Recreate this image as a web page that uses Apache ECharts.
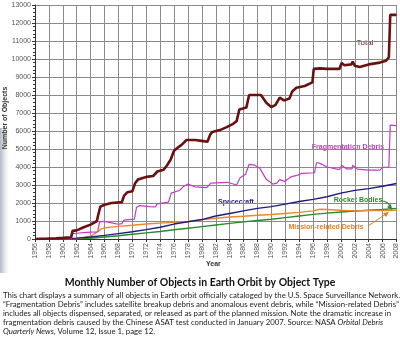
<!DOCTYPE html>
<html>
<head>
<meta charset="utf-8">
<script src="https://cdn.jsdelivr.net/npm/echarts@6/dist/echarts.min.js"></script>
<style>
  html, body { margin: 0; padding: 0; background: #ffffff; }
  #chart { width: 400px; height: 338px; }
</style>
</head>
<body>
<div id="chart"></div>
<script>
// Tracked objects in Earth orbit, [year, count] samples per object type
const totalObjects = [
  [1956.0, 0], [1957.8, 20], [1959.0, 40], [1960.0, 60], [1961.2, 100], [1961.4, 450],
  [1962.0, 480], [1963.0, 650], [1964.0, 800], [1964.9, 1000], [1965.1, 1350], [1965.4, 1800],
  [1966.0, 1900], [1967.0, 2000], [1968.5, 2050], [1968.8, 2400], [1969.3, 2600], [1970.0, 2650],
  [1970.4, 3100], [1970.8, 3300], [1972.0, 3450], [1973.0, 3500], [1973.6, 3750], [1974.5, 3850],
  [1975.0, 4100], [1975.5, 4400], [1976.0, 4900], [1976.6, 5100], [1977.0, 5200], [1977.8, 5500],
  [1979.0, 5500], [1980.0, 5450], [1980.8, 5400], [1981.2, 5800], [1981.5, 5950], [1982.6, 6050],
  [1983.5, 6200], [1984.5, 6400], [1985.0, 6550], [1985.4, 7200], [1986.4, 7300], [1986.8, 8000],
  [1988.5, 8000], [1989.3, 7550], [1990.0, 7330], [1990.6, 7450], [1991.2, 7850], [1991.8, 7700],
  [1992.6, 7800], [1993.0, 8200], [1993.6, 8400], [1994.8, 8500], [1995.9, 8700], [1996.1, 9450],
  [1997.0, 9480], [1998.0, 9450], [1999.8, 9450], [2000.1, 9780], [2000.5, 9650], [2001.5, 9700],
  [2001.7, 9850], [2002.0, 9620], [2002.7, 9550], [2004.0, 9700], [2005.6, 9800], [2006.5, 9900],
  [2006.9, 10100], [2007.1, 12450], [2008.0, 12450]
];

const fragmentationDebris = [
  [1956.0, 0], [1961.2, 30], [1961.4, 300], [1962.0, 320], [1963.0, 350], [1964.0, 380],
  [1965.0, 400], [1965.3, 950], [1966.0, 980], [1967.0, 900], [1968.0, 820], [1968.5, 850],
  [1968.8, 1050], [1970.3, 1100], [1970.6, 1750], [1971.0, 1850], [1972.5, 1800], [1973.3, 1780],
  [1973.6, 1950], [1975.2, 2050], [1975.6, 2550], [1976.4, 2650], [1976.8, 2700], [1977.3, 2900],
  [1978.0, 3050], [1979.0, 2900], [1980.7, 2850], [1981.3, 3100], [1983.7, 3150], [1985.0, 3000],
  [1985.5, 3400], [1986.3, 3600], [1986.8, 4150], [1987.6, 4100], [1988.3, 3950], [1989.3, 3300],
  [1990.2, 3050], [1990.8, 3100], [1991.2, 3300], [1991.9, 3200], [1992.8, 3450], [1993.8, 3550],
  [1994.4, 3650], [1996.2, 3680], [1996.5, 4250], [1997.0, 4200], [1998.0, 4000], [1999.8, 3850],
  [2000.1, 4100], [2000.8, 3900], [2001.6, 3900], [2001.7, 4100], [2002.4, 3880], [2004.0, 3830],
  [2005.6, 3830], [2006.0, 3980], [2006.9, 4000], [2007.1, 6330], [2008.0, 6300]
];

const spacecraft = [
  [1956, 0], [1958, 5], [1960, 15], [1962, 50], [1964, 110], [1966, 200], [1968, 300],
  [1970, 400], [1972, 520], [1974, 650], [1976, 830], [1978, 960], [1980, 1080], [1982, 1280],
  [1984, 1420], [1986, 1560], [1988, 1700], [1990, 1800], [1992, 1940], [1994, 2080],
  [1996, 2200], [1998, 2350], [2000, 2550], [2002, 2700], [2004, 2800], [2006, 2930], [2008, 3080]
];

const missionDebris = [
  [1956, 0], [1958, 5], [1960, 10], [1962, 30], [1963, 80], [1964, 150], [1964.8, 350],
  [1965.5, 550], [1966, 620], [1968, 700], [1970, 760], [1972, 830], [1974, 880], [1976, 930],
  [1978, 980], [1980, 1060], [1982, 1150], [1984, 1220], [1986, 1260], [1988, 1320], [1990, 1360],
  [1992, 1420], [1994, 1480], [1996, 1560], [1997, 1650], [1998, 1640], [2000, 1600], [2002, 1560],
  [2004, 1580], [2006, 1580], [2008, 1600]
];

const rocketBodies = [
  [1956, 0], [1958, 5], [1960, 10], [1962, 20], [1964, 40], [1966, 110], [1968, 180], [1970, 260],
  [1972, 340], [1974, 420], [1976, 510], [1978, 600], [1980, 690], [1982, 780], [1984, 870],
  [1986, 950], [1988, 1030], [1990, 1100], [1992, 1190], [1994, 1280], [1996, 1370], [1998, 1440],
  [2000, 1500], [2002, 1550], [2004, 1600], [2006, 1640], [2008, 1700]
];

const yearMin = 1956, yearMax = 2008, yearStep = 2;
const countMax = 13000, countStep = 1000;

const chartTitle = 'Monthly Number of Objects in Earth Orbit by Object Type';
const captionLines = [
  [{ t: 'This chart displays a summary of all objects in Earth orbit officially cataloged by the U.S. Space Surveillance Network.' }],
  [{ t: '\u201CFragmentation Debris\u201D includes satellite breakup debris and anomalous event debris, while \u201CMission-related Debris\u201D' }],
  [{ t: 'includes all objects dispensed, separated, or released as part of the planned mission. Note the dramatic increase in' }],
  [{ t: 'fragmentation debris caused by the Chinese ASAT test conducted in January 2007. Source: NASA ' }, { t: 'Orbital Debris', i: true }],
  [{ t: 'Quarterly News', i: true }, { t: ', Volume 12, Issue 1, page 12.' }]
];

const chart = echarts.init(document.getElementById('chart'), null, { renderer: 'canvas' });

const axisFont = 'Arial, "Liberation Sans", sans-serif';
const captionFont = 'Lato, "Open Sans", sans-serif';

function lineSeries(name, data, color, width) {
  return {
    name: name,
    type: 'line',
    data: data,
    showSymbol: false,
    symbol: 'none',
    animation: false,
    lineStyle: { color: color, width: width },
    z: 3
  };
}

const graphics = [
  // soft frame shading at the left edge
  {
    type: 'rect', left: 0, top: 128, silent: true,
    shape: { width: 9, height: 145 },
    style: {
      fill: new echarts.graphic.LinearGradient(0, 0, 1, 0, [
        { offset: 0, color: 'rgba(150,162,175,0.75)' },
        { offset: 1, color: 'rgba(200,208,215,0.0)' }
      ])
    }
  },
  { type: 'text', left: 206, top: 261, style: { text: 'Year', font: 'bold 7px ' + axisFont, fill: '#333' } },
  {
    type: 'text', x: 2, y: 118, rotation: Math.PI / 2, originX: 0, originY: 0,
    style: { text: 'Number of Objects', font: 'bold 7px ' + axisFont, fill: '#333', align: 'center', verticalAlign: 'top' }
  },
  { type: 'text', x: 365, y: 43, style: { text: 'Total', font: '8px ' + axisFont, fill: '#6b1010', align: 'center', verticalAlign: 'middle' } },
  { type: 'text', x: 348, y: 147, style: { text: 'Fragmentation Debris', font: 'bold 7px ' + axisFont, fill: '#c33cc6', align: 'center', verticalAlign: 'middle' } },
  { type: 'text', x: 236, y: 202, style: { text: 'Spacecraft', font: 'bold 7px ' + axisFont, fill: '#1c1c7c', align: 'center', verticalAlign: 'middle' } },
  { type: 'text', x: 358, y: 200, style: { text: 'Rocket Bodies', font: 'bold 7px ' + axisFont, fill: '#2a8a2a', align: 'center', verticalAlign: 'middle' } },
  { type: 'text', x: 326, y: 227, style: { text: 'Mission-related Debris', font: 'bold 7px ' + axisFont, fill: '#e07f22', align: 'center', verticalAlign: 'middle' } },
  // pointer from the rocket-bodies label to its line
  { type: 'bezierCurve', shape: { x1: 382, y1: 201, x2: 391, y2: 208, cpx1: 388, cpy1: 201 }, style: { stroke: '#2a8a2a', lineWidth: 1.2, fill: null }, z: 5 },
  { type: 'polygon', shape: { points: [[392, 210], [387, 207], [391, 204]] }, style: { fill: '#2a8a2a' }, z: 5 },
  // pointer from the mission-related label to its line
  { type: 'line', shape: { x1: 368, y1: 226, x2: 386, y2: 214 }, style: { stroke: '#e07f22', lineWidth: 1 }, z: 5 },
  { type: 'polygon', shape: { points: [[389, 212], [383, 213], [386, 217]] }, style: { fill: '#e07f22' }, z: 5 },
  { type: 'text', x: 200, y: 283, style: { text: chartTitle, font: 'bold 10.5px ' + captionFont, fill: '#111', align: 'center', verticalAlign: 'middle' } }
];

captionLines.forEach(function (parts, idx) {
  const rich = {
    n: { font: '7.8px ' + captionFont, fill: '#222' },
    it: { font: 'italic 7.8px ' + captionFont, fill: '#222' }
  };
  const text = parts.map(function (p) { return '{' + (p.i ? 'it' : 'n') + '|' + p.t + '}'; }).join('');
  graphics.push({
    type: 'text', x: 3, y: 295 + idx * 9,
    style: { text: text, rich: rich, align: 'left', verticalAlign: 'middle' }
  });
});

chart.setOption({
  backgroundColor: '#ffffff',
  animation: false,
  grid: { left: 35, right: 3, top: 5, bottom: 99, containLabel: false },
  xAxis: {
    type: 'value',
    min: yearMin, max: yearMax, interval: yearStep,
    axisLine: { show: true, lineStyle: { color: '#333', width: 1 } },
    axisTick: { show: true, length: 3, lineStyle: { color: '#333' } },
    axisLabel: { rotate: 90, fontSize: 7, fontFamily: axisFont, color: '#555', margin: 4, formatter: function (v) { return String(v); } },
    splitLine: { show: true, lineStyle: { color: '#8a8a8a', width: 1 } }
  },
  yAxis: {
    type: 'value',
    min: 0, max: countMax, interval: countStep,
    axisLine: { show: true, lineStyle: { color: '#333', width: 1 } },
    axisTick: { show: true, length: 3, lineStyle: { color: '#333' } },
    minorTick: { show: true, splitNumber: 5, length: 2, lineStyle: { color: '#333' } },
    axisLabel: { fontSize: 7, fontFamily: axisFont, color: '#555', margin: 4, formatter: function (v) { return String(v); } },
    splitLine: { show: true, lineStyle: { color: '#8a8a8a', width: 1 } }
  },
  series: [
    lineSeries('Rocket Bodies', rocketBodies, '#2a8a2a', 1.4),
    lineSeries('Mission-related Debris', missionDebris, '#e8892a', 1.4),
    lineSeries('Spacecraft', spacecraft, '#1c1c7c', 1.4),
    lineSeries('Fragmentation Debris', fragmentationDebris, '#c33cc6', 1.2),
    lineSeries('Total', totalObjects, '#6b1010', 2.6)
  ],
  graphic: graphics
});
</script>
</body>
</html>
